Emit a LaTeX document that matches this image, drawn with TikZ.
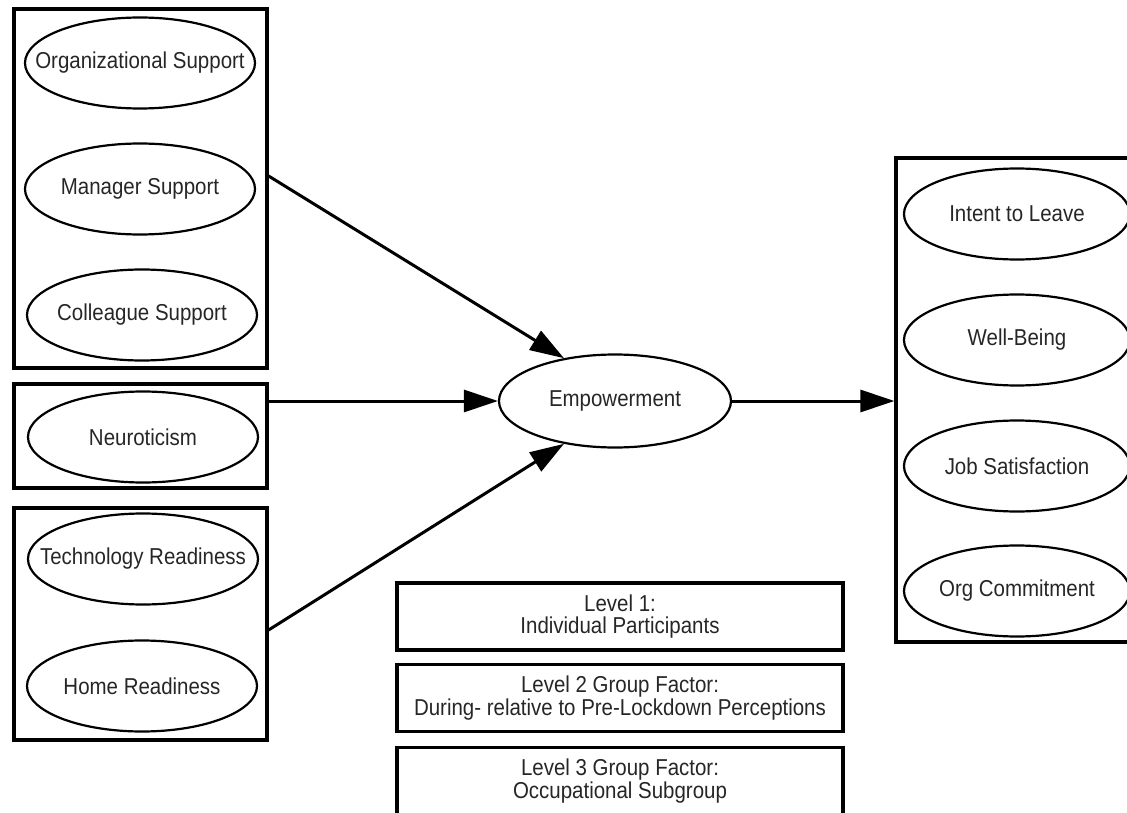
\documentclass[tikz,border=0pt]{standalone}
\usepackage{fontspec}
\setmainfont[FakeStretch=0.89]{Liberation Sans}
\usetikzlibrary{arrows.meta,shapes.geometric}
\begin{document}
\begin{tikzpicture}[x=1pt,y=-1pt,
  grp/.style={draw, line width=3.2pt, rectangle, inner sep=0pt, line join=miter},
  lat/.style={draw, ellipse, line width=2.2pt, inner sep=0pt, minimum width=230pt, minimum height=91pt,
              font=\fontsize{23}{26}\selectfont, text=black!85},
  lvl/.style={draw, line width=3.2pt, minimum width=446pt, minimum height=67pt, align=center,
              inner sep=0pt, font=\fontsize{23}{22.5}\selectfont, text=black!85},
  conn/.style={line width=3pt, -{Triangle[length=34pt,width=22pt]}}]
\useasboundingbox (0,0) rectangle (1127,813);
\clip (0,0) rectangle (1127,813);

% left group boxes
\node[grp, minimum width=253pt, minimum height=359pt] (box1) at (140.5,188.5) {};
\node[grp, minimum width=253pt, minimum height=104pt] (box2) at (140.5,436) {};
\node[grp, minimum width=253pt, minimum height=232pt] (box3) at (140.5,624) {};

\node[lat] (os) at (140,63) {\makebox[0pt]{Organizational Support}};
\node[lat] (ms) at (140,189) {\makebox[0pt]{Manager Support}};
\node[lat] (cs) at (142,315) {\makebox[0pt]{Colleague Support}};
\node[lat] (ne) at (143,437) {\makebox[0pt]{Neuroticism}};
\node[lat] (tr) at (143,559) {\makebox[0pt]{Technology Readiness}};
\node[lat] (hr) at (142,686) {\makebox[0pt]{Home Readiness}};

% central
\node[lat, minimum width=232pt, minimum height=93pt] (emp) at (615,401) {\makebox[0pt]{Empowerment}};

% right group box
\node[grp, minimum width=260pt, minimum height=484pt] (rbox) at (1026,400) {};
\node[lat, minimum width=226pt] (il) at (1017,214) {\makebox[0pt]{Intent to Leave}};
\node[lat, minimum width=226pt] (wb) at (1017,340) {\makebox[0pt]{Well-Being}};
\node[lat, minimum width=226pt] (js) at (1017,466) {\makebox[0pt]{Job Satisfaction}};
\node[lat, minimum width=226pt] (oc) at (1017,591) {\makebox[0pt]{Org Commitment}};

% level boxes
\node[lvl] (l1) at (620,616.5) {Level 1:\\Individual Participants};
\node[lvl] (l2) at (620,698) {Level 2 Group Factor:\\During- relative to Pre-Lockdown Perceptions};
\node[lvl] (l3) at (620,781) {Level 3 Group Factor:\\Occupational Subgroup};

% connectors
\draw[conn] ([yshift=12.5pt]box1.east) -- (emp.140);
\draw[conn] (box2.east |- emp.west) -- (emp.west);
\draw[conn] ([yshift=-6pt]box3.east) -- (emp.220);
\draw[conn] (emp.east) -- (emp.east -| rbox.west);
\end{tikzpicture}
\end{document}
